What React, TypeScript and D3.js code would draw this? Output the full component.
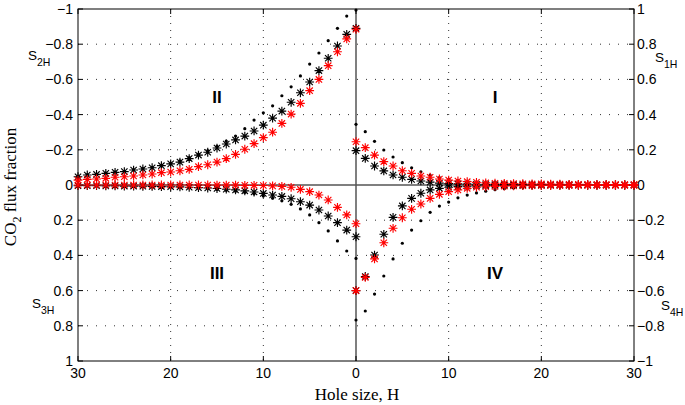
import React from "react";
import * as d3 from "d3";

// Hole size H = 0..30
const holeSizes: number[] = d3.range(0, 31);

// Quadrant I (S1H, right axis, positive)
const s1Dots = [0.345,0.303,0.248,0.199,0.159,0.127,0.098,0.075,0.056,0.042,0.032,0.024,0.018,0.014,0.011,0.009,0.007,0.006,0.005,0.004,0.004,0.003,0.003,0.002,0.002,0.002,0.002,0.001,0.001,0.001,0.001];
const s1Black = [0.195,0.151,0.108,0.08,0.057,0.044,0.032,0.023,0.016,0.011,0.008,0.006,0.005,0.004,0.003,0.003,0.002,0.002,0.002,0.001,0.001,0.001,0.001,0.001,0.001,0,0,0,0,0,0];
const s1Red = [0.246,0.212,0.17,0.133,0.108,0.081,0.066,0.051,0.044,0.034,0.028,0.023,0.019,0.015,0.012,0.01,0.009,0.008,0.007,0.006,0.006,0.005,0.005,0.004,0.004,0.004,0.003,0.003,0.003,0.003,0.003];

// Quadrant II (S2H, left axis, negative)
const s2Dots = [-0.994,-0.96,-0.89,-0.82,-0.75,-0.687,-0.62,-0.558,-0.507,-0.45,-0.41,-0.369,-0.32,-0.278,-0.25,-0.22,-0.195,-0.175,-0.155,-0.137,-0.124,-0.112,-0.1,-0.093,-0.086,-0.078,-0.073,-0.067,-0.061,-0.058,-0.048];
const s2Black = [-0.89,-0.856,-0.79,-0.72,-0.65,-0.585,-0.524,-0.47,-0.42,-0.38,-0.34,-0.307,-0.278,-0.256,-0.233,-0.21,-0.186,-0.17,-0.15,-0.13,-0.12,-0.11,-0.098,-0.091,-0.085,-0.076,-0.072,-0.066,-0.06,-0.057,-0.047];
const s2Red = [-0.885,-0.83,-0.757,-0.678,-0.6,-0.536,-0.464,-0.403,-0.35,-0.3,-0.269,-0.235,-0.203,-0.174,-0.15,-0.13,-0.115,-0.104,-0.089,-0.081,-0.074,-0.07,-0.0625,-0.057,-0.051,-0.047,-0.044,-0.038,-0.034,-0.032,-0.028];

// Quadrant III (S3H, left axis, positive)
const s3Dots = [0.417,0.375,0.318,0.261,0.214,0.17,0.136,0.11,0.09,0.075,0.062,0.05,0.042,0.035,0.03,0.025,0.021,0.018,0.016,0.014,0.012,0.011,0.01,0.009,0.008,0.007,0.006,0.006,0.005,0.005,0.004];
const s3Black = [0.294,0.256,0.214,0.176,0.142,0.114,0.095,0.078,0.065,0.057,0.048,0.04,0.033,0.028,0.024,0.02,0.017,0.015,0.013,0.011,0.01,0.009,0.008,0.007,0.006,0.006,0.005,0.005,0.004,0.004,0.004];
const s3Red = [0.22,0.17,0.127,0.085,0.057,0.038,0.025,0.013,0.008,0.005,0.003,0.002,0.002,0.001,0.001,0.001,0,0,0,0,0,0,0,0,0,0,0,0,0,0,0];

// Quadrant IV (S4H, right axis, negative)
const s4Dots = [-0.767,-0.716,-0.62,-0.517,-0.42,-0.331,-0.256,-0.203,-0.155,-0.12,-0.097,-0.073,-0.057,-0.045,-0.035,-0.027,-0.021,-0.017,-0.013,-0.01,-0.008,-0.007,-0.006,-0.005,-0.004,-0.003,-0.003,-0.002,-0.002,-0.002,-0.002];
const s4Black = [-0.6,-0.52,-0.398,-0.28,-0.184,-0.119,-0.076,-0.047,-0.028,-0.019,-0.013,-0.009,-0.007,-0.005,-0.004,-0.003,-0.002,-0.002,-0.002,-0.001,-0.001,-0.001,-0.001,-0.001,0,0,0,0,0,0,0];
const s4Red = [-0.6,-0.525,-0.42,-0.328,-0.246,-0.186,-0.138,-0.108,-0.076,-0.053,-0.038,-0.028,-0.019,-0.013,-0.01,-0.008,-0.006,-0.005,-0.004,-0.004,-0.003,-0.003,-0.003,-0.002,-0.002,-0.002,-0.002,-0.002,-0.002,-0.002,-0.002];

const xTicks = [-30, -20, -10, 0, 10, 20, 30];
const yTicks = [-1, -0.8, -0.6, -0.4, -0.2, 0, 0.2, 0.4, 0.6, 0.8, 1];
const quadrantLabels = [
  { text: "I", h: 15, v: 0.5, side: "right" },
  { text: "II", h: -15, v: -0.5, side: "left" },
  { text: "III", h: -15, v: 0.5, side: "left" },
  { text: "IV", h: 15, v: -0.5, side: "right" },
];

const W = 685, H = 405;
const M = { left: 78, right: 634, top: 9, bottom: 361 };

const fmt = (v: number) => {
  const s = d3.format("")(Math.round(v * 10) / 10);
  return s.replace("-", "\u2212");
};

function starPath(cx: number, cy: number, r: number) {
  const d = r * 0.72;
  return `M${cx - r},${cy}L${cx + r},${cy}M${cx},${cy - r}L${cx},${cy + r}` +
    `M${cx - d},${cy - d}L${cx + d},${cy + d}M${cx - d},${cy + d}L${cx + d},${cy - d}`;
}

export default function App() {
  const x = d3.scaleLinear().domain([-30, 30]).range([M.left, M.right]);
  const yL = d3.scaleLinear().domain([-1, 1]).range([M.top, M.bottom]);
  const yR = d3.scaleLinear().domain([1, -1]).range([M.top, M.bottom]);

  const sans = "'Liberation Sans', Arial, Helvetica, sans-serif";
  const serif = "'Liberation Serif', 'Times New Roman', serif";

  const series = (vals: number[], sign: number, yScale: any) =>
    vals.map((v, i) => ({ px: x(sign * holeSizes[i]), py: yScale(v) }));

  const dots = [
    ...series(s1Dots, 1, yR), ...series(s2Dots, -1, yL),
    ...series(s3Dots, -1, yL), ...series(s4Dots, 1, yR),
  ];
  const blacks = [
    ...series(s1Black, 1, yR), ...series(s2Black, -1, yL),
    ...series(s3Black, -1, yL), ...series(s4Black, 1, yR),
  ];
  const reds = [
    ...series(s1Red, 1, yR), ...series(s2Red, -1, yL),
    ...series(s3Red, -1, yL), ...series(s4Red, 1, yR),
  ];

  const gridY = yTicks.filter((t) => Math.abs(t) > 0.01 && Math.abs(t) < 0.99);
  const gridX = xTicks.filter((t) => t !== 0 && Math.abs(t) !== 30);
  const tickLen = 5;

  return (
    <svg width={W} height={H} style={{ position: "absolute", left: 0, top: 0, background: "#fff" }}>
      <rect x={0} y={0} width={W} height={H} fill="#fff" />
      {/* grid */}
      {gridY.map((t) => (
        <line key={"gy" + t} x1={M.left} x2={M.right} y1={yL(t)} y2={yL(t)}
          stroke="#333" strokeWidth={1} strokeDasharray="1,8" />
      ))}
      {gridX.map((t) => (
        <line key={"gx" + t} x1={x(t)} x2={x(t)} y1={M.top} y2={M.bottom}
          stroke="#333" strokeWidth={1} strokeDasharray="1,6" />
      ))}
      {/* zero lines */}
      <line x1={M.left} x2={M.right} y1={yL(0)} y2={yL(0)} stroke="#555" strokeWidth={1.5} />
      <line x1={x(0)} x2={x(0)} y1={M.top} y2={M.bottom} stroke="#555" strokeWidth={1.5} />
      {/* box */}
      <rect x={M.left} y={M.top} width={M.right - M.left} height={M.bottom - M.top}
        fill="none" stroke="#000" strokeWidth={1} />
      {/* ticks */}
      {xTicks.map((t) => (
        <g key={"xt" + t}>
          <line x1={x(t)} x2={x(t)} y1={M.bottom} y2={M.bottom - tickLen} stroke="#000" />
          <line x1={x(t)} x2={x(t)} y1={M.top} y2={M.top + tickLen} stroke="#000" />
          <text x={x(t)} y={378} textAnchor="middle" fontFamily={sans} fontSize={14}>{Math.abs(t)}</text>
        </g>
      ))}
      {yTicks.map((t) => (
        <g key={"yt" + t}>
          <line x1={M.left} x2={M.left + tickLen} y1={yL(t)} y2={yL(t)} stroke="#000" />
          <line x1={M.right} x2={M.right - tickLen} y1={yL(t)} y2={yL(t)} stroke="#000" />
          <text x={73} y={yL(t)} dy="0.36em" textAnchor="end" fontFamily={sans} fontSize={14}>{fmt(t)}</text>
          <text x={637} y={yR(t)} dy="0.36em" textAnchor="start" fontFamily={sans} fontSize={14}>{fmt(t)}</text>
        </g>
      ))}
      {/* data */}
      {dots.map((p, i) => (
        <circle key={"d" + i} cx={p.px} cy={p.py} r={1.6} fill="#000" />
      ))}
      {blacks.map((p, i) => (
        <path key={"b" + i} d={starPath(p.px, p.py, 4.4)} stroke="#000" strokeWidth={1.15} fill="none" />
      ))}
      {reds.map((p, i) => (
        <path key={"r" + i} d={starPath(p.px, p.py, 4.4)} stroke="#ff0000" strokeWidth={1.15} fill="none" />
      ))}
      {/* quadrant labels */}
      {quadrantLabels.map((q) => (
        <text key={q.text} x={x(q.h)} y={(q.side === "left" ? yL(q.v) : yR(q.v))} dy="0.36em"
          textAnchor="middle" fontFamily={sans} fontSize={17} fontWeight="bold">{q.text}</text>
      ))}
      {/* S labels */}
      <text x={28} y={60} fontFamily={sans} fontSize={13.5}>S<tspan fontSize={10.5} dy={6}>2H</tspan></text>
      <text x={32} y={308} fontFamily={sans} fontSize={13.5}>S<tspan fontSize={10.5} dy={6}>3H</tspan></text>
      <text x={655} y={62} fontFamily={sans} fontSize={13.5}>S<tspan fontSize={10.5} dy={6}>1H</tspan></text>
      <text x={661} y={310} fontFamily={sans} fontSize={13.5}>S<tspan fontSize={10.5} dy={6}>4H</tspan></text>
      {/* axis titles */}
      <text x={357} y={400} textAnchor="middle" fontFamily={serif} fontSize={17}>Hole size, H</text>
      <text transform="translate(16,187) rotate(-90)" textAnchor="middle" fontFamily={serif} fontSize={17}>
        CO<tspan fontSize={12} dy={5}>2</tspan><tspan dy={-5}> flux fraction</tspan>
      </text>
    </svg>
  );
}
